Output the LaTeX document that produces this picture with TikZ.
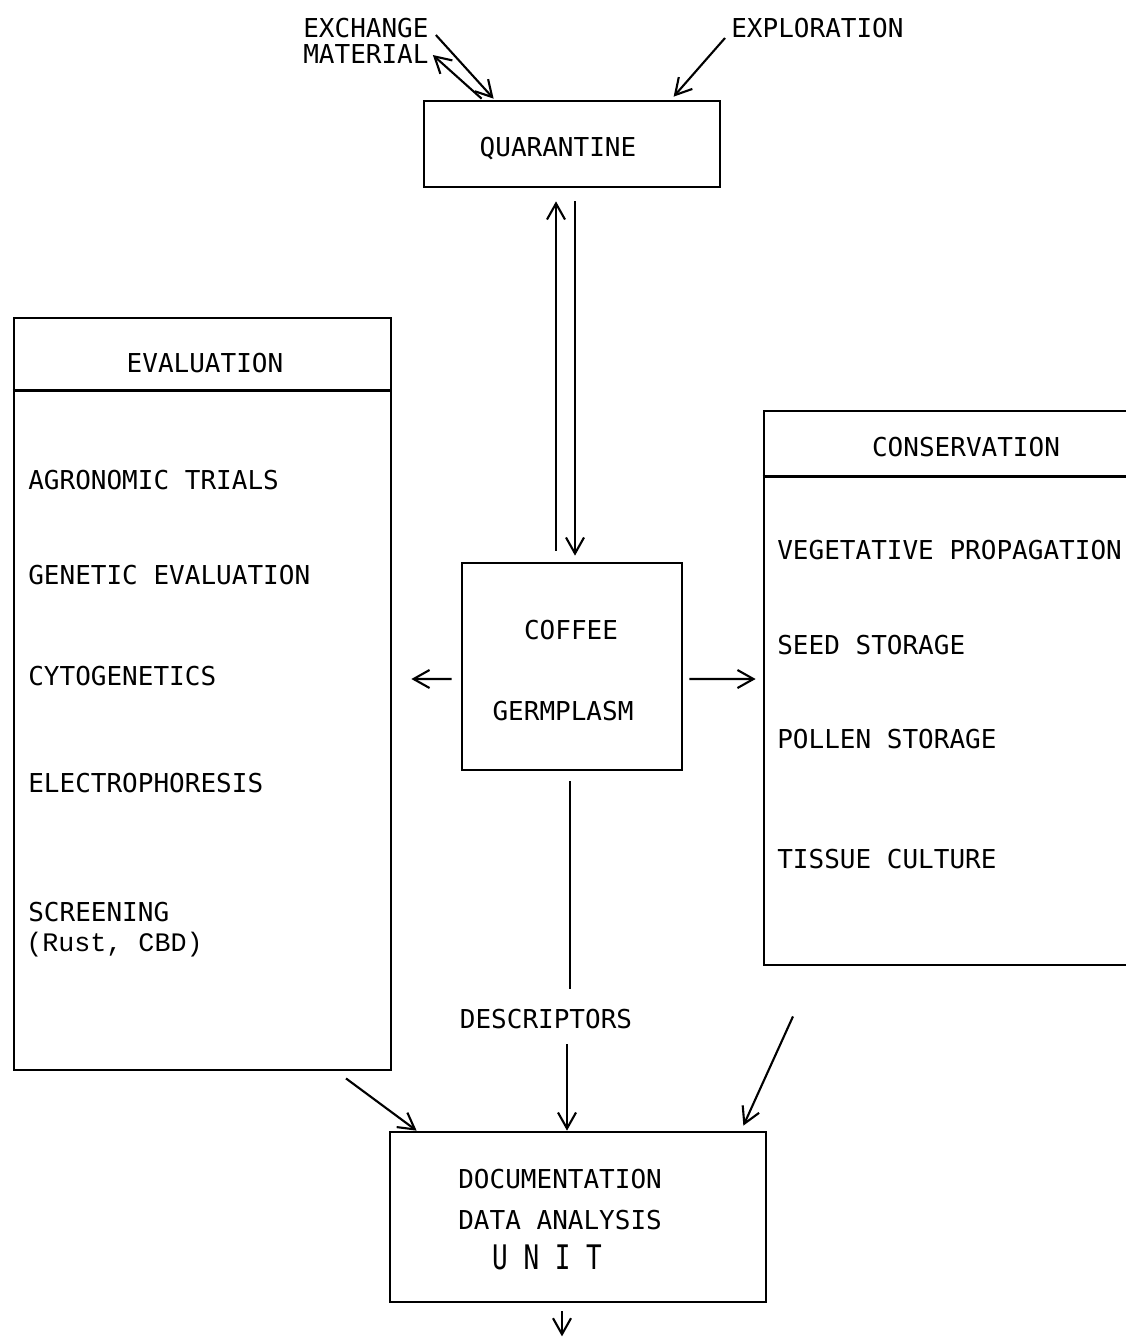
\documentclass[tikz,border=0pt]{standalone}
\usepackage{fontspec}
\usepackage{graphicx}
\setmonofont{DejaVu Sans Mono}
\newfontfamily\rustfont{Liberation Mono}
\usetikzlibrary{arrows.meta,calc}

\begin{document}
\begin{tikzpicture}[
  x=0.025cm,y=-0.025cm,
  box/.style={draw,line width=1.9pt,inner sep=0pt},
  txt/.style={inner sep=0pt,font=\ttfamily\fontsize{18.5}{18.5}\selectfont},
  item/.style={txt,anchor=west},
  flow/.style={line width=1.5pt,-{Straight Barb[length=4mm,width=4.5mm]}}
]
  \useasboundingbox (0,0) rectangle (1126,1337);

  \node[box,minimum width=7.4cm,minimum height=2.15cm] (quarantine) at (572,144) {};
  \node[box,minimum width=5.5cm,minimum height=5.175cm] (germplasm) at (572,666.5) {};
  \node[box,minimum width=9.425cm,minimum height=18.8cm] (evaluation) at (202.5,694) {};
  \node[box,minimum width=9.525cm,minimum height=13.85cm] (conservation) at (954.5,688) {};
  \node[box,minimum width=9.4cm,minimum height=4.25cm] (unit) at (578,1217) {};
  \draw[line width=1.9pt] ($(evaluation.north west)+(0,74)$) -- ($(evaluation.north east)+(0,74)$);
  \draw[line width=1.9pt] ($(conservation.north west)+(0,67)$) -- ($(conservation.north east)+(0,67)$);

  \node[txt,anchor=west,align=left] (exchange) at (303,41) {EXCHANGE\\MATERIAL};
  \node[item] (exploration) at (731,28) {EXPLORATION};
  \node[txt] (quarantinetitle) at (558,149) {QUARANTINE};

  \node[txt] (evaltitle) at (205,363) {EVALUATION};
  \node[item] (agronomic) at (28,480) {AGRONOMIC TRIALS};
  \node[item] (genetic) at (28,575) {GENETIC EVALUATION};
  \node[item] (cytogenetics) at (28,676) {CYTOGENETICS};
  \node[item] (electrophoresis) at (28,783) {ELECTROPHORESIS};
  \node[item] (screening) at (28,912) {SCREENING};
  \node[item,font=\rustfont\fontsize{19}{20}\selectfont] (rust) at (26,945) {(Rust, CBD)};

  \node[txt] (constitle) at (966,447) {CONSERVATION};
  \node[item] (vegetative) at (777,550) {VEGETATIVE PROPAGATION};
  \node[item] (seed) at (777,645) {SEED STORAGE};
  \node[item] (pollen) at (777,739) {POLLEN STORAGE};
  \node[item] (tissue) at (777,859) {TISSUE CULTURE};

  \node[txt] (coffee) at (571,630) {COFFEE};
  \node[txt] (germ) at (563,711) {GERMPLASM};

  \node[txt] (descriptors) at (546,1019) {DESCRIPTORS};
  \node[item] (documentation) at (458,1179) {DOCUMENTATION};
  \node[item] (analysis) at (458,1220) {DATA ANALYSIS};
  \node[txt] (unitlabel) at (547,1257) {\scalebox{1}[1.3]{U N I T}};

  \draw[flow] ($(exchange.east)+(7,-6)$) -- ($(quarantine.north west)+(71,-1)$);
  \draw[flow] ($(quarantine.north west)+(59,-1)$) -- ($(exchange.east)+(4,14)$);
  \draw[flow] ($(exploration.west)+(-6,10)$) -- ($(quarantine.north west)+(251,-3)$);
  \draw[flow] ($(germplasm.north)+(-16,-11)$) -- ($(quarantine.south)+(-16,13)$);
  \draw[flow] ($(quarantine.south)+(3,13)$) -- ($(germplasm.north)+(3,-6)$);
  \draw[flow] ($(germplasm.east)+(6,12.5)$) -- ($(conservation.west)+(-7,-9)$);
  \draw[flow] ($(germplasm.west)+(-9,12.5)$) -- ($(evaluation.east)+(19,-15)$);
  \draw[line width=1.5pt] ($(germplasm.south)+(-2,10)$) -- ($(descriptors.north)+(24,-20)$);
  \draw[flow] ($(descriptors.south)+(21,15)$) -- ($(unit.north)+(-11,0)$);
  \draw[flow] ($(evaluation.south)+(143.5,7)$) -- ($(unit.north west)+(28,0)$);
  \draw[flow] ($(conservation.south)+(-161.5,50)$) -- ($(unit.north east)+(-24,-5)$);
  \draw[flow] ($(unit.south)+(-16,8)$) -- ($(unit.south)+(-16,33)$);
\end{tikzpicture}
\end{document}
